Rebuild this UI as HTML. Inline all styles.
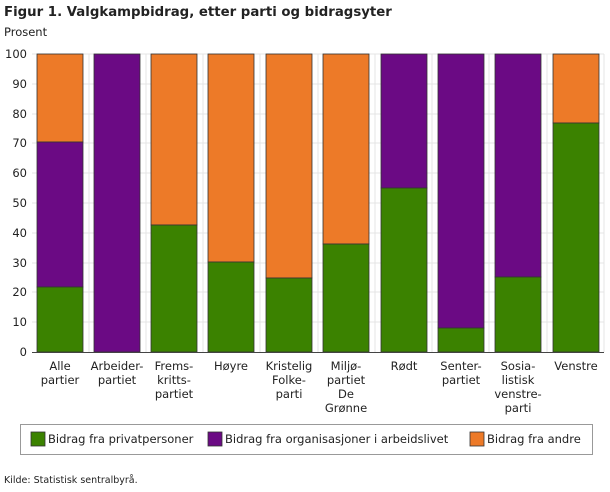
<!DOCTYPE html><html><head><style>body{margin:0;background:#fff;font-family:"DejaVu Sans","Liberation Sans",sans-serif}</style></head><body>
<svg width="610" height="488" xmlns="http://www.w3.org/2000/svg" font-family="DejaVu Sans, Liberation Sans, sans-serif">
<text x="4" y="16" font-size="13.3" font-weight="bold" fill="#222">Figur 1. Valgkampbidrag, etter parti og bidragsyter</text>
<text x="4" y="36" font-size="11.5" fill="#222">Prosent</text>
<g stroke="#e4e4e4" stroke-width="1">
<line x1="32" x2="604" y1="54" y2="54"/><line x1="32" x2="604" y1="84" y2="84"/><line x1="32" x2="604" y1="114" y2="114"/><line x1="32" x2="604" y1="143" y2="143"/><line x1="32" x2="604" y1="173" y2="173"/><line x1="32" x2="604" y1="203" y2="203"/><line x1="32" x2="604" y1="233" y2="233"/><line x1="32" x2="604" y1="263" y2="263"/><line x1="32" x2="604" y1="292" y2="292"/><line x1="32" x2="604" y1="322" y2="322"/>
<line x1="89" x2="89" y1="54" y2="352"/><line x1="146" x2="146" y1="54" y2="352"/><line x1="203" x2="203" y1="54" y2="352"/><line x1="260" x2="260" y1="54" y2="352"/><line x1="318" x2="318" y1="54" y2="352"/><line x1="375" x2="375" y1="54" y2="352"/><line x1="432" x2="432" y1="54" y2="352"/><line x1="489" x2="489" y1="54" y2="352"/><line x1="547" x2="547" y1="54" y2="352"/><line x1="604" x2="604" y1="54" y2="352"/>
</g>
<g font-size="11.5" fill="#222" text-anchor="end">
<text x="27" y="58">100</text><text x="27" y="88">90</text><text x="27" y="118">80</text><text x="27" y="147">70</text><text x="27" y="177">60</text><text x="27" y="207">50</text><text x="27" y="237">40</text><text x="27" y="267">30</text><text x="27" y="296">20</text><text x="27" y="326">10</text><text x="27" y="356">0</text>
</g>
<g stroke="#333" stroke-width="0.8">
<rect x="37" y="54" width="46" height="88" fill="#ed7a28"/><rect x="37" y="142" width="46" height="145" fill="#6b0a84"/><rect x="37" y="287" width="46" height="65" fill="#3b8200"/>
<rect x="94" y="54" width="46" height="298" fill="#6b0a84"/>
<rect x="151" y="54" width="46" height="171" fill="#ed7a28"/><rect x="151" y="225" width="46" height="127" fill="#3b8200"/>
<rect x="208" y="54" width="46" height="208" fill="#ed7a28"/><rect x="208" y="262" width="46" height="90" fill="#3b8200"/>
<rect x="266" y="54" width="46" height="224" fill="#ed7a28"/><rect x="266" y="278" width="46" height="74" fill="#3b8200"/>
<rect x="323" y="54" width="46" height="190" fill="#ed7a28"/><rect x="323" y="244" width="46" height="108" fill="#3b8200"/>
<rect x="381" y="54" width="46" height="134" fill="#6b0a84"/><rect x="381" y="188" width="46" height="164" fill="#3b8200"/>
<rect x="438" y="54" width="46" height="274" fill="#6b0a84"/><rect x="438" y="328" width="46" height="24" fill="#3b8200"/>
<rect x="495" y="54" width="46" height="223" fill="#6b0a84"/><rect x="495" y="277" width="46" height="75" fill="#3b8200"/>
<rect x="553" y="54" width="46" height="69" fill="#ed7a28"/><rect x="553" y="123" width="46" height="229" fill="#3b8200"/>
</g>
<line x1="32" x2="604" y1="352.5" y2="352.5" stroke="#444"/>
<g font-size="11.5" fill="#222" text-anchor="middle">
<text x="60" y="370">Alle</text><text x="60" y="384">partier</text>
<text x="117" y="370">Arbeider-</text><text x="117" y="384">partiet</text>
<text x="174" y="370">Frems-</text><text x="174" y="384">kritts-</text><text x="174" y="398">partiet</text>
<text x="231" y="370">Høyre</text>
<text x="289" y="370">Kristelig</text><text x="289" y="384">Folke-</text><text x="289" y="398">parti</text>
<text x="346" y="370">Miljø-</text><text x="346" y="384">partiet</text><text x="346" y="398">De</text><text x="346" y="412">Grønne</text>
<text x="404" y="370">Rødt</text>
<text x="461" y="370">Senter-</text><text x="461" y="384">partiet</text>
<text x="518" y="370">Sosia-</text><text x="518" y="384">listisk</text><text x="518" y="398">venstre-</text><text x="518" y="412">parti</text>
<text x="576" y="370">Venstre</text>
</g>
<rect x="20.5" y="424.5" width="572" height="30" fill="#fff" stroke="#999"/>
<g font-size="11.5" fill="#222">
<rect x="31" y="432" width="14" height="14" fill="#3b8200" stroke="#333" stroke-width="0.8"/><text x="48" y="443">Bidrag fra privatpersoner</text>
<rect x="208" y="432" width="14" height="14" fill="#6b0a84" stroke="#333" stroke-width="0.8"/><text x="225" y="443">Bidrag fra organisasjoner i arbeidslivet</text>
<rect x="470" y="432" width="14" height="14" fill="#ed7a28" stroke="#333" stroke-width="0.8"/><text x="487" y="443">Bidrag fra andre</text>
</g>
<text x="4" y="483" font-size="9.5" fill="#222">Kilde: Statistisk sentralbyrå.</text>
</svg></body></html>
